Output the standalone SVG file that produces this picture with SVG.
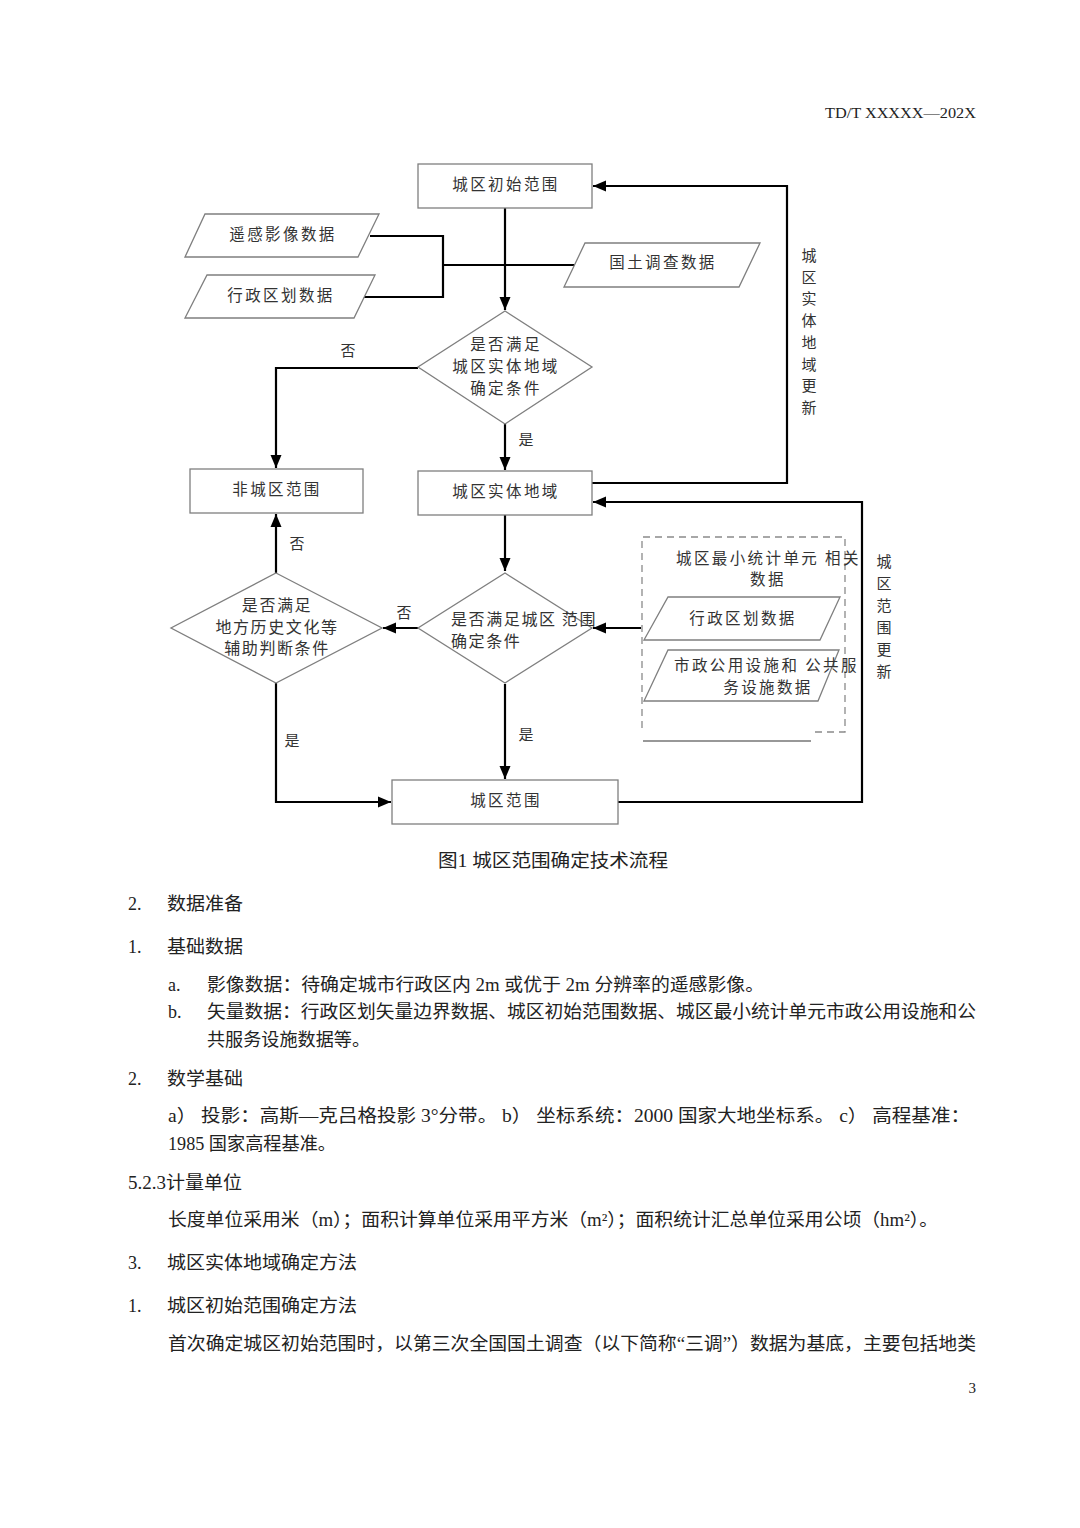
<svg xmlns="http://www.w3.org/2000/svg" width="1080" height="1528" viewBox="0 0 1080 1528">
<style>
.bg{fill:#fff}
.box{fill:#fff;stroke:#7f7f7f;stroke-width:1.3}
.dash{fill:none;stroke:#8a8a8a;stroke-width:1.3;stroke-dasharray:7,5}
.ln{fill:none;stroke:#000;stroke-width:2.2}
.thin{fill:none;stroke:#333;stroke-width:1.2}
.t{font-family:"Noto Sans CJK SC","Liberation Sans",sans-serif;font-size:15.5px;fill:#333;letter-spacing:2.4px}
.c{text-anchor:middle}
.lb{font-family:"Noto Sans CJK SC","Liberation Sans",sans-serif;font-size:15px;fill:#333}
.dt{font-family:"Noto Sans CJK SC","Liberation Sans",sans-serif;font-size:16px;fill:#333;letter-spacing:1.6px}
.b{font-family:"Liberation Serif","Noto Sans CJK SC",serif;font-size:18px;fill:#222}
.h{font-family:"Liberation Serif","Noto Sans CJK SC",serif;font-size:15px;fill:#222}
</style>
<defs>
<marker id="ah" markerUnits="userSpaceOnUse" markerWidth="14" markerHeight="14" viewBox="0 0 14 14" refX="13" refY="7" orient="auto">
<path d="M0,1.5 L13,7 L0,12.5 Z" fill="#000"/>
</marker>
</defs>
<rect class="bg" x="0" y="0" width="1080" height="1528"/>
<text class="h" x="825" y="118" textLength="151" lengthAdjust="spacingAndGlyphs">TD/T XXXXX—202X</text>

<g id="connectors">
<path class="ln" d="M370,236 H443 V297 H362"/>
<path class="ln" d="M443,265 H576"/>
<path class="ln" d="M505,208 V310" marker-end="url(#ah)"/>
<path class="ln" d="M592,483 H787 V186 H593" marker-end="url(#ah)"/>
<path class="ln" d="M418,368 H276 V468" marker-end="url(#ah)"/>
<path class="ln" d="M505,424 V470" marker-end="url(#ah)"/>
<path class="ln" d="M505,515 V571" marker-end="url(#ah)"/>
<path class="ln" d="M418,628 H383" marker-end="url(#ah)"/>
<path class="ln" d="M276,573 V514" marker-end="url(#ah)"/>
<path class="ln" d="M276,683 V802 H391" marker-end="url(#ah)"/>
<path class="ln" d="M505,684 V779" marker-end="url(#ah)"/>
<path class="ln" d="M618,802 H862 V502 H593" marker-end="url(#ah)"/>
<path class="ln" d="M641,628 H593" marker-end="url(#ah)"/>
</g>

<g id="n-init"><rect class="box" x="418" y="164" width="174" height="44"/><text class="t c" x="506" y="190">城区初始范围</text></g>
<g id="n-rs"><polygon class="box" points="205,214 379,214 358,257 185,257"/><text class="t c" x="283" y="240">遥感影像数据</text></g>
<g id="n-admin"><polygon class="box" points="207,275 375,275 354,318 185,318"/><text class="t c" x="281" y="301">行政区划数据</text></g>
<g id="n-land"><polygon class="box" points="585,243 760,243 739,287 564,287"/><text class="t c" x="663" y="268">国土调查数据</text></g>
<g id="n-d1"><polygon class="box" points="505,311 592,367 505,424 418,367"/>
<text class="t c" x="506" y="350">是否满足</text><text class="t c" x="506" y="372">城区实体地域</text><text class="t c" x="506" y="394">确定条件</text></g>
<g id="n-non"><rect class="box" x="190" y="469" width="173" height="44"/><text class="t c" x="277" y="495">非城区范围</text></g>
<g id="n-entity"><rect class="box" x="418" y="471" width="174" height="44"/><text class="t c" x="506" y="497">城区实体地域</text></g>
<g id="n-d2"><polygon class="box" points="505,573 592,628 505,683 418,628"/>
<text class="dt" x="451" y="625">是否满足城区 范围</text><text class="dt" x="451" y="647">确定条件</text></g>
<g id="n-d3"><polygon class="box" points="276,573 382,628 276,683 171,628"/>
<text class="dt c" x="277" y="611">是否满足</text><text class="dt c" x="277" y="633">地方历史文化等</text><text class="dt c" x="277" y="654">辅助判断条件</text></g>
<g id="n-urban"><rect class="box" x="392" y="780" width="226" height="44"/><text class="t c" x="506" y="806">城区范围</text></g>
<g id="n-group">
<path class="dash" d="M642,728 V537 H845 V732 H813"/>
<path class="thin" d="M643,741 H811"/>
<text class="t" x="676" y="564">城区最小统计单元  相关</text>
<text class="t c" x="768" y="585">数据</text>
<polygon class="box" points="668,597 840,597 820,640 644,640"/>
<text class="t c" x="743" y="624">行政区划数据</text>
<polygon class="box" points="668,650 839,650 818,701 644,701" style="fill:none"/>
<text class="t" x="674" y="671">市政公用设施和  公共服</text>
<text class="t c" x="768" y="693">务设施数据</text>
</g>

<g id="labels">
<text class="lb c" x="348" y="356">否</text>
<text class="lb c" x="526" y="445">是</text>
<text class="lb c" x="297" y="549">否</text>
<text class="lb c" x="404" y="618">否</text>
<text class="lb c" x="292" y="746">是</text>
<text class="lb c" x="526" y="740">是</text>
<g class="lb" text-anchor="middle">
<text x="809" y="261">城</text><text x="809" y="283">区</text><text x="809" y="304">实</text><text x="809" y="326">体</text><text x="809" y="348">地</text><text x="809" y="370">域</text><text x="809" y="391">更</text><text x="809" y="413">新</text>
<text x="884" y="567">城</text><text x="884" y="589">区</text><text x="884" y="611">范</text><text x="884" y="633">围</text><text x="884" y="655">更</text><text x="884" y="677">新</text>
</g>
</g>

<g id="body">
<text class="b" x="438" y="867" textLength="230" lengthAdjust="spacingAndGlyphs">图1 城区范围确定技术流程</text>
<text class="b" x="128" y="910">2.</text><text class="b" x="167" y="910" textLength="76" lengthAdjust="spacingAndGlyphs">数据准备</text>
<text class="b" x="128" y="953">1.</text><text class="b" x="167" y="953" textLength="76" lengthAdjust="spacingAndGlyphs">基础数据</text>
<text class="b" x="168" y="991">a.</text>
<text class="b" x="207" y="991" textLength="557" lengthAdjust="spacingAndGlyphs">影像数据：待确定城市行政区内 2m 或优于 2m 分辨率的遥感影像。</text>
<text class="b" x="168" y="1018">b.</text>
<text class="b" x="207" y="1018" textLength="769" lengthAdjust="spacingAndGlyphs">矢量数据：行政区划矢量边界数据、城区初始范围数据、城区最小统计单元市政公用设施和公</text>
<text class="b" x="207" y="1046" textLength="163" lengthAdjust="spacingAndGlyphs">共服务设施数据等。</text>
<text class="b" x="128" y="1085">2.</text><text class="b" x="167" y="1085" textLength="76" lengthAdjust="spacingAndGlyphs">数学基础</text>
<text class="b" x="168" y="1122" textLength="802" lengthAdjust="spacingAndGlyphs">a） 投影：高斯—克吕格投影 3°分带。 b） 坐标系统：2000 国家大地坐标系。 c） 高程基准：</text>
<text class="b" x="168" y="1150" textLength="168" lengthAdjust="spacingAndGlyphs">1985 国家高程基准。</text>
<text class="b" x="128" y="1189" textLength="114" lengthAdjust="spacingAndGlyphs">5.2.3计量单位</text>
<text class="b" x="168" y="1226" textLength="770" lengthAdjust="spacingAndGlyphs">长度单位采用米（m）；面积计算单位采用平方米（m²）；面积统计汇总单位采用公顷（hm²）。</text>
<text class="b" x="128" y="1269">3.</text><text class="b" x="167" y="1269" textLength="190" lengthAdjust="spacingAndGlyphs">城区实体地域确定方法</text>
<text class="b" x="128" y="1312">1.</text><text class="b" x="167" y="1312" textLength="190" lengthAdjust="spacingAndGlyphs">城区初始范围确定方法</text>
<text class="b" x="168" y="1350" textLength="808" lengthAdjust="spacingAndGlyphs">首次确定城区初始范围时，以第三次全国国土调查（以下简称“三调”）数据为基底，主要包括地类</text>
<text class="h" x="976" y="1393" text-anchor="end">3</text>
</g>
</svg>
